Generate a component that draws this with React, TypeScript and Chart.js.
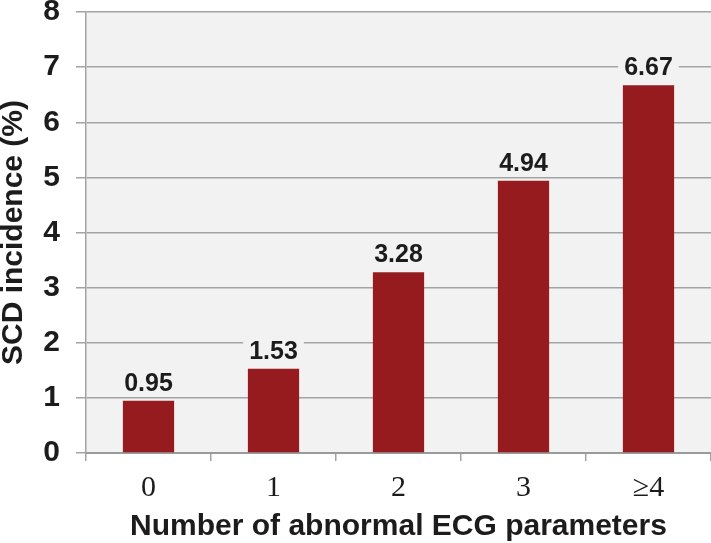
import React, { useEffect, useRef } from "react";
import { Chart, registerables } from "chart.js";

Chart.register(...registerables);

const categories = ["0", "1", "2", "3", "≥4"];
const incidence = [0.95, 1.53, 3.28, 4.94, 6.67];
const valueLabels = ["0.95", "1.53", "3.28", "4.94", "6.67"];
const yTicks = [0, 1, 2, 3, 4, 5, 6, 7, 8];

const SANS = "'Liberation Sans', Arial, sans-serif";
const SERIF = "'Liberation Serif', 'Times New Roman', serif";
const PLOT_BG = "#f2f2f2";
const GRID = "#a3a3a3";
const TEXT = "#1c1c1c";
const BAR = "#951b1f";

const plotBgPlugin = {
  id: "plotBg",
  beforeDraw(chart: any) {
    const { ctx, chartArea } = chart;
    ctx.save();
    ctx.fillStyle = PLOT_BG;
    ctx.fillRect(chartArea.left, chartArea.top, chartArea.right - chartArea.left, chartArea.bottom - chartArea.top);
    ctx.restore();
  },
};

const valueLabelPlugin = {
  id: "valueLabels",
  afterDatasetsDraw(chart: any) {
    const { ctx } = chart;
    const meta = chart.getDatasetMeta(0);
    ctx.save();
    ctx.font = `bold 25px ${SANS}`;
    ctx.textAlign = "center";
    ctx.textBaseline = "alphabetic";
    meta.data.forEach((bar: any, i: number) => {
      const text = valueLabels[i];
      const w = ctx.measureText(text).width;
      const baseY = bar.y - 10;
      ctx.fillStyle = PLOT_BG;
      ctx.fillRect(bar.x - w / 2 - 6, baseY - 22, w + 12, 26);
      ctx.fillStyle = TEXT;
      ctx.fillText(text, bar.x, baseY);
    });
    ctx.restore();
  },
};

export default function App() {
  const ref = useRef<HTMLCanvasElement | null>(null);

  useEffect(() => {
    if (!ref.current) return;
    const chart = new Chart(ref.current, {
      type: "bar",
      data: {
        labels: categories,
        datasets: [
          {
            data: incidence,
            backgroundColor: BAR,
            borderWidth: 0,
            categoryPercentage: 1,
            barPercentage: 0.41,
          },
        ],
      },
      options: {
        responsive: false,
        animation: false,
        layout: { padding: { top: 0, right: 0, left: 0, bottom: 0 } },
        plugins: {
          legend: { display: false },
          tooltip: { enabled: false },
        },
        scales: {
          x: {
            afterFit(scale: any) {
              scale.height = 90;
              scale.paddingLeft = 0;
              scale.paddingRight = 0;
            },
            grid: {
              display: true,
              drawOnChartArea: false,
              drawTicks: true,
              tickLength: 8,
              color: GRID,
              lineWidth: 1.5,
              offset: true,
            },
            border: { display: true, color: "#9a9a9a", width: 2 },
            ticks: {
              color: TEXT,
              font: { family: SERIF, size: 30, lineHeight: 1.2 },
              padding: 9,
              maxRotation: 0,
            },
            title: {
              display: true,
              text: "Number of abnormal ECG parameters",
              color: TEXT,
              font: { family: SANS, size: 30, weight: "bold", lineHeight: 1.1 },
              padding: { top: 0, bottom: 0 },
            },
          },
          y: {
            min: 0,
            max: 8,
            afterFit(scale: any) {
              scale.width = 86;
              scale.paddingTop = 12;
              scale.paddingBottom = 0;
            },
            afterBuildTicks(scale: any) {
              scale.ticks = yTicks.map((v) => ({ value: v }));
            },
            grid: {
              color: GRID,
              lineWidth: 1.5,
              drawTicks: true,
              tickLength: 10,
            },
            border: { display: true, color: GRID, width: 1.5 },
            ticks: {
              color: TEXT,
              font: { family: SANS, size: 30, weight: "bold", lineHeight: 0.8 },
              padding: 16,
            },
            title: {
              display: true,
              text: "SCD incidence (%)",
              color: TEXT,
              font: { family: SANS, size: 30, weight: "bold", lineHeight: 0.9 },
              padding: { top: 0, bottom: 0 },
            },
          },
        },
      },
      plugins: [plotBgPlugin, valueLabelPlugin],
    } as any);
    return () => chart.destroy();
  }, []);

  return (
    <div style={{ position: "absolute", left: 0, top: 0, width: 711, height: 543 }}>
      <canvas ref={ref} width={711} height={543} style={{ display: "block" }} />
    </div>
  );
}
